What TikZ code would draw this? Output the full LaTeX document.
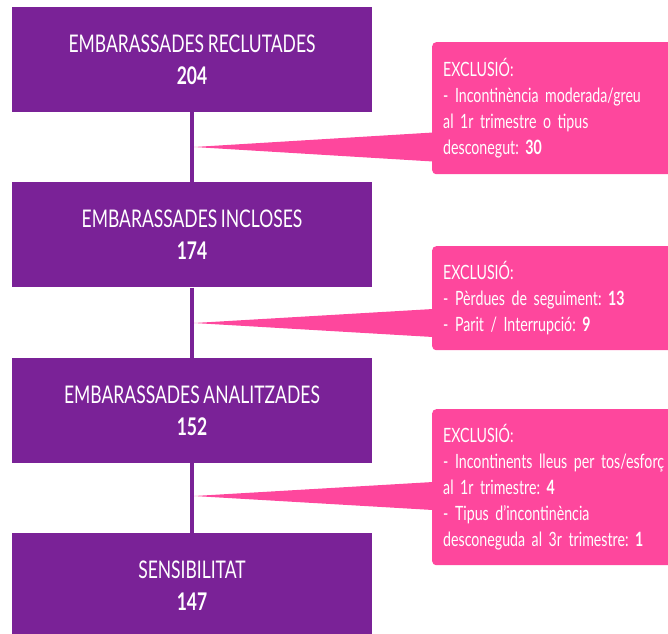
\documentclass[tikz,border=0pt]{standalone}
\usepackage{fontspec}
\setmainfont{Lato}[FakeStretch=0.72,WordSpace=0.8]
\frenchspacing
\usetikzlibrary{positioning,calc}
\definecolor{lila}{RGB}{122,34,151}
\definecolor{rosa}{RGB}{254,71,157}
\tikzset{
  etapa/.style={fill=lila, text=white, minimum width=360pt, minimum height=105pt,
    align=center, inner sep=0pt, font=\fontsize{24.3}{32}\selectfont},
  exclusio/.style={fill=rosa, text=white, rounded corners=4pt, anchor=north west,
    text width=300pt, align=left, inner xsep=11pt, font=\fontsize{19.7}{26}\selectfont},
  punta/.style={fill=rosa},
  linia/.style={draw=lila, line width=4pt},
}
\begin{document}
\begin{tikzpicture}[x=1pt,y=-1pt]
  \useasboundingbox (0,0) rectangle (668,633);
  \clip (0,0) rectangle (668,633);
  % etapes
  \node[etapa] (reclutades) at (192,59.5) {EMBARASSADES RECLUTADES\\\textbf{204}};
  \node[etapa, below=70pt of reclutades] (incloses) {EMBARASSADES INCLOSES\\\textbf{174}};
  \node[etapa, below=70pt of incloses] (analitzades) {EMBARASSADES ANALITZADES\\\textbf{152}};
  \node[etapa, below=70pt of analitzades] (sensibilitat) {SENSIBILITAT\\\textbf{147}};
  \draw[linia] (reclutades.south) -- (incloses.north);
  \draw[linia] (incloses.south) -- (analitzades.north);
  \draw[linia] (analitzades.south) -- (sensibilitat.north);
  % exclusions
  \node[exclusio, minimum height=132pt] (exc1) at (432,42)
    {EXCLUSIÓ:\\- Incontinència moderada/greu\\al 1r trimestre o tipus\\desconegut: \textbf{30}};
  \node[exclusio, minimum height=104pt] (exc2) at (432,246)
    {EXCLUSIÓ:\\- Pèrdues de seguiment: \textbf{13}\\- Parit / Interrupció: \textbf{9}};
  \node[exclusio, minimum height=156pt] (exc3) at (432,409)
    {EXCLUSIÓ:\\- Incontinents lleus per tos/esforç\\al 1r trimestre: \textbf{4}\\- Tipus d’incontinència\\desconeguda al 3r trimestre: \textbf{1}};
  \coordinate (p1) at (194,147);
  \coordinate (p2) at (194,323);
  \coordinate (p3) at (194,496);
  \fill[punta] (p1) -- ($(p1 -| exc1.west)+(1,-14.5)$) -- ($(p1 -| exc1.west)+(1,14.5)$) -- cycle;
  \fill[punta] (p2) -- ($(p2 -| exc2.west)+(1,-14)$) -- ($(p2 -| exc2.west)+(1,14)$) -- cycle;
  \fill[punta] (p3) -- ($(p3 -| exc3.west)+(1,-14)$) -- ($(p3 -| exc3.west)+(1,14)$) -- cycle;
\end{tikzpicture}
\end{document}
